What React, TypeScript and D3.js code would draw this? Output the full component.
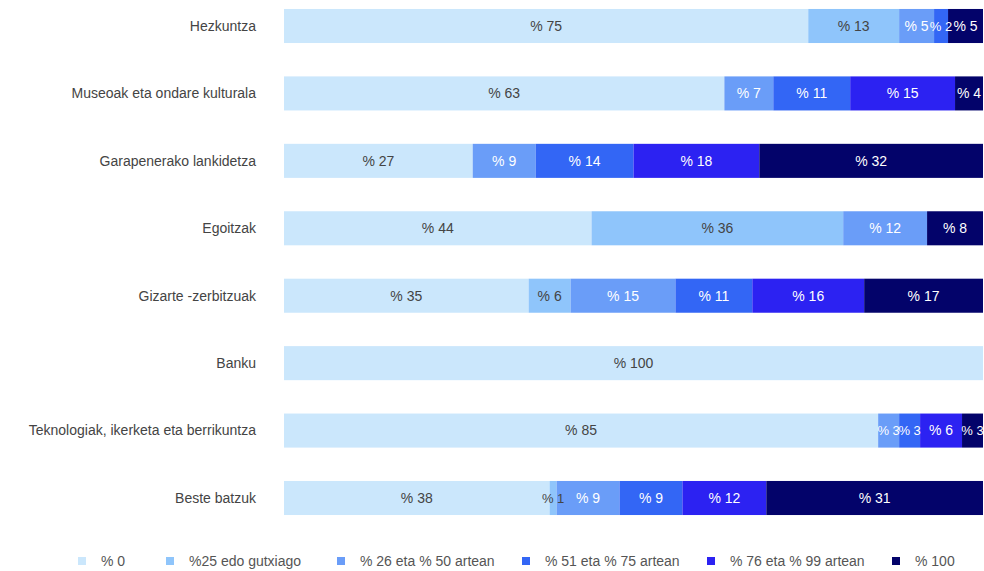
import React from "react";
import * as d3 from "d3";

const categories = [
  "Hezkuntza",
  "Museoak eta ondare kulturala",
  "Garapenerako lankidetza",
  "Egoitzak",
  "Gizarte -zerbitzuak",
  "Banku",
  "Teknologiak, ikerketa eta berrikuntza",
  "Beste batzuk",
];

const seriesNames = [
  "% 0",
  "%25 edo gutxiago",
  "% 26 eta % 50 artean",
  "% 51 eta % 75 artean",
  "% 76 eta % 99 artean",
  "% 100",
];

const s0 = [75, 63, 27, 44, 35, 100, 85, 38];
const s25 = [13, 0, 0, 36, 6, 0, 0, 1];
const s50 = [5, 7, 9, 12, 15, 0, 3, 9];
const s75 = [2, 11, 14, 0, 11, 0, 3, 9];
const s99 = [0, 15, 18, 0, 16, 0, 6, 12];
const s100 = [5, 4, 32, 8, 17, 0, 3, 31];

const seriesValues = [s0, s25, s50, s75, s99, s100];

const colors = ["#cbe7fc", "#8fc5fb", "#6a9df8", "#3366f5", "#2c22f2", "#03036a"];
const textColors = ["#444444", "#444444", "#ffffff", "#ffffff", "#ffffff", "#ffffff"];

const W = 984;
const H = 571;

export default function App() {
  const x = d3.scaleLinear().domain([0, 100]).range([284, 983]);
  const step = (498 - 26) / 7;
  const y = d3
    .scaleBand<string>()
    .domain(categories)
    .range([26 - step / 2, 26 - step / 2 + step * 8])
    .paddingInner(0.495)
    .paddingOuter(0.2475);

  const stack = categories.map((c, i) => {
    let acc = 0;
    return seriesValues.map((vals, k) => {
      const v = vals[i];
      const seg = { k, v, x0: acc, x1: acc + v };
      acc += v;
      return seg;
    });
  });

  const legendX = [78, 166, 337, 522, 707, 892];
  const legendY = 561;

  return (
    <svg
      width={W}
      height={H}
      style={{ position: "absolute", left: 0, top: 0, background: "#fff" }}
      fontFamily="'Liberation Sans', Arial, sans-serif"
      fontSize={14}
    >
      {categories.map((c, i) => {
        const by = y(c)!;
        const bh = y.bandwidth();
        const cy = by + bh / 2;
        return (
          <g key={c}>
            <text x={256} y={cy} dy="0.35em" textAnchor="end" fill="#444">
              {c}
            </text>
            {stack[i].map((s) =>
              s.v > 0 ? (
                <rect
                  key={s.k}
                  x={x(s.x0)}
                  y={by}
                  width={x(s.x1) - x(s.x0)}
                  height={bh}
                  fill={colors[s.k]}
                />
              ) : null
            )}
            {stack[i].map((s) =>
              s.v > 0 ? (
                <text
                  key={"t" + s.k}
                  x={(x(s.x0) + x(s.x1)) / 2}
                  y={cy}
                  dy="0.35em"
                  textAnchor="middle"
                  fill={textColors[s.k]}
                  fontSize={x(s.x1) - x(s.x0) < 26 ? 13 : 14}
                >
                  {"% " + s.v}
                </text>
              ) : null
            )}
          </g>
        );
      })}
      {seriesNames.map((n, k) => (
        <g key={n}>
          <rect x={legendX[k]} y={legendY - 4} width={8} height={8} fill={colors[k]} />
          <text x={legendX[k] + 23} y={legendY} dy="0.35em" fill="#555">
            {n}
          </text>
        </g>
      ))}
    </svg>
  );
}
